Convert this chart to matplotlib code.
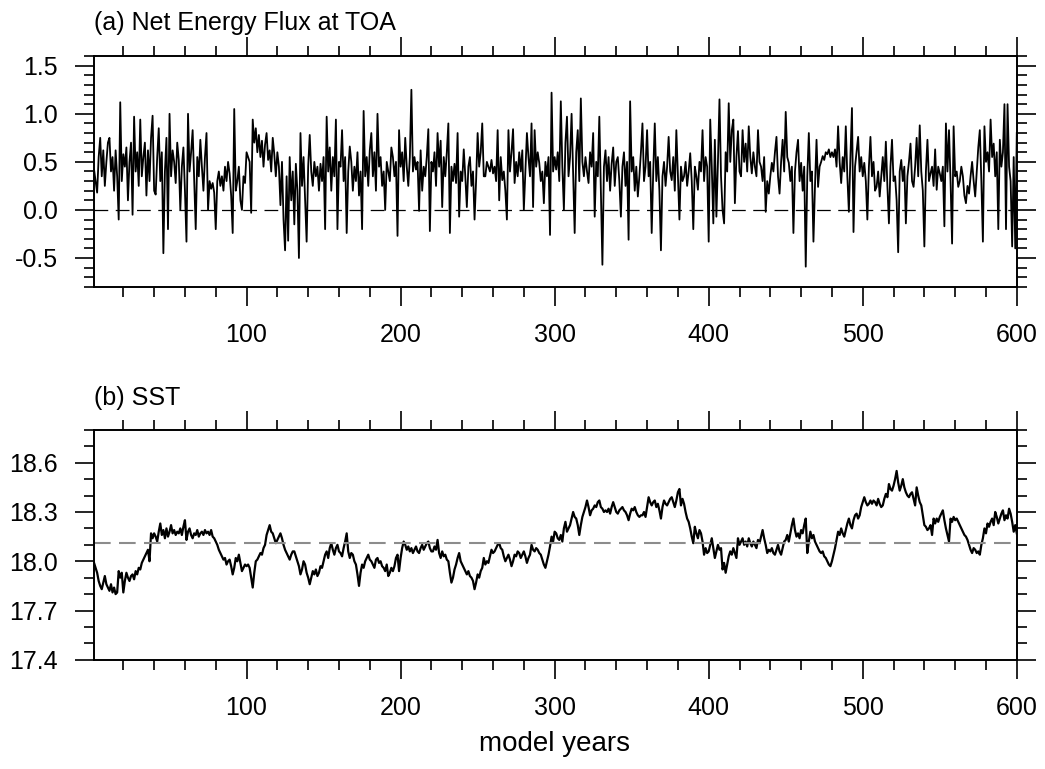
import numpy as np
import matplotlib
matplotlib.use('Agg')
import matplotlib.pyplot as plt
from matplotlib.ticker import MultipleLocator, FormatStrFormatter

plt.rcParams['font.family'] = ['Liberation Sans', 'DejaVu Sans']
plt.rcParams['axes.unicode_minus'] = False

# (a) net energy flux at TOA, one value per model year
flux = [
    0.42, 0.30, 0.18, 0.55, 0.75, 0.35, 0.62, 0.25, 0.50, 0.70, 0.75, 0.40, 0.55, 0.20, 0.62, 0.35, -0.10, 1.12, 0.30, 0.58,
    0.45, 0.65, 0.10, 0.50, 0.70, -0.05, 0.97, 0.40, 0.60, 0.25, 0.94, 0.35, 0.55, 0.70, 0.15, 0.62, 0.30, 0.75, 0.98, 0.20,
    0.16, 0.55, 0.85, 0.30, 0.60, -0.45, 0.40, 0.75, -0.20, 1.00, 0.35, 0.62, 0.50, 0.28, 0.70, 0.52, 0.00, 0.45, 0.65, 0.20,
    -0.33, 1.00, 0.40, 0.60, 0.83, 0.30, -0.20, 0.55, 0.35, 0.73, 0.45, 0.20, 0.55, 0.80, 0.00, 0.30, 0.22, 0.28, 0.18, -0.20,
    0.30, 0.40, 0.25, 0.35, 0.20, 0.45, 0.30, 0.50, 0.38, 0.15, -0.24, 1.05, 0.20, 0.30, 0.45, 0.10, 0.00, 0.35, 0.28, 0.60,
    0.55, 0.50, -0.03, 0.94, 0.70, 0.85, 0.60, 0.78, 0.55, 0.72, 0.45, 0.68, 0.80, 0.52, 0.62, 0.40, 0.75, 0.58, 0.35, 0.60,
    0.45, 0.05, 0.50, -0.10, -0.42, 0.35, -0.32, 0.55, 0.10, 0.40, -0.15, 0.48, 0.20, -0.50, 0.80, 0.25, 0.55, 0.10, -0.33, 0.45,
    0.78, 0.40, 0.25, 0.50, 0.35, 0.45, 0.20, 0.48, 0.30, 0.55, -0.20, 0.97, 0.40, 0.65, 0.20, 0.55, 0.35, 0.94, -0.20, 0.50,
    0.45, 0.83, 0.30, 0.55, -0.24, 0.40, 0.66, 0.50, 0.20, 0.45, 0.30, 0.60, 0.15, 0.40, -0.20, 1.03, 0.35, 0.55, 0.25, 0.62,
    0.80, 0.35, 0.60, 0.20, 1.00, 0.45, 0.55, 0.25, 0.40, 0.00, 0.50, 0.40, 0.30, 0.65, 0.55, 0.35, 0.50, -0.27, 0.83, 0.45,
    0.60, 0.30, 0.75, 0.45, 0.25, 0.55, 1.25, 0.40, 0.55, 0.42, 0.50, -0.01, 0.62, 0.20, 0.45, 0.35, 0.55, 0.84, -0.22, 0.50,
    0.40, 0.60, 0.25, 0.80, 0.45, 0.72, 0.03, 0.55, 0.35, 0.60, 0.90, -0.24, 0.45, 0.30, 0.48, 0.28, 0.80, -0.07, 0.40, 0.30,
    0.63, 0.35, 0.03, 0.45, 0.55, 0.25, 0.40, -0.10, 0.30, 0.80, 0.45, 0.60, 0.90, 0.35, 0.35, 0.50, 0.45, 0.40, 0.52, 0.38,
    0.45, 0.30, 0.83, 0.10, 0.55, 0.31, 0.40, 0.20, -0.10, 0.83, 0.40, 0.60, 0.84, 0.28, 0.50, 0.35, 0.60, 0.40, 0.62, 0.00,
    0.40, 0.80, 0.55, 0.35, 0.90, 0.03, 0.83, 0.45, 0.60, 0.49, 0.30, 0.40, 0.07, 0.50, 0.35, 0.55, -0.26, 1.22, 0.40, 0.55,
    0.42, 0.60, 0.30, 1.13, 0.45, 0.00, 0.70, 0.97, 0.35, 0.55, 1.00, 0.40, -0.24, 0.60, 0.83, 0.30, 1.16, 0.50, 0.35, 0.55,
    0.40, 0.28, 0.60, 0.45, 0.80, -0.07, 0.50, 0.35, 0.97, 0.20, -0.57, 0.45, 0.62, 0.30, 0.55, 0.20, 0.48, 0.65, 0.25, 0.50,
    0.55, 0.30, -0.07, 0.45, 0.60, 0.25, 0.50, -0.31, 1.13, 0.40, 0.55, 0.20, 0.45, 0.14, 0.35, 0.60, 0.90, 0.30, 0.45, 0.83,
    0.35, 0.50, -0.24, 0.40, 0.90, 0.30, 0.55, 0.20, -0.42, 0.35, 0.50, 0.25, 0.45, 0.76, 0.40, 0.31, 0.55, 0.20, 0.83, 0.35,
    -0.10, 0.45, 0.30, 0.35, 0.50, 0.25, 0.40, 0.59, 0.30, -0.20, 0.45, 0.35, 0.21, 0.50, 0.40, 0.83, 0.30, 0.55, 0.45, -0.33,
    0.94, 0.45, -0.14, 0.73, -0.07, 0.50, 1.15, 0.35, 0.00, -0.14, 0.60, 0.40, 1.11, 0.50, 0.83, 0.94, 0.07, 0.55, 0.82, 0.40,
    0.35, 0.83, 0.50, 0.69, 0.40, 0.87, 0.55, 0.38, 0.60, 0.45, 0.35, 0.83, 0.50, 0.45, 0.30, 0.55, -0.02, 0.30, 0.17, 0.35,
    0.49, 0.40, 0.60, 0.76, 0.35, 0.17, 0.50, 0.73, 0.40, 1.02, 0.55, 0.49, 0.30, 0.45, -0.24, 0.40, 0.60, 0.73, 0.30, 0.49,
    0.20, 0.45, -0.59, 0.35, 0.80, 0.30, 0.40, -0.33, 0.25, 0.73, 0.24, 0.45, 0.50, 0.56, 0.52, 0.60, 0.58, 0.63, 0.55, 0.60,
    0.55, 0.63, 0.45, 0.87, 0.50, 0.28, 0.55, 0.40, 0.87, 0.35, -0.02, 0.55, 1.06, -0.23, 0.45, 0.60, 0.76, 0.40, 0.55, 0.35,
    0.49, 0.30, -0.10, 0.45, 0.76, 0.35, 0.50, 0.20, 0.24, 0.40, 0.14, 0.35, 0.55, 0.30, 0.71, 0.25, -0.14, 0.45, 0.73, 0.30,
    0.35, 0.10, -0.44, 0.40, 0.52, 0.30, 0.45, -0.14, 0.35, 0.50, 0.69, 0.30, 0.24, 0.45, 0.75, 0.35, 0.88, 0.40, 0.20, -0.38,
    0.40, 0.73, 0.30, 0.38, 0.45, 0.25, 0.63, 0.21, 0.45, 0.38, 0.30, 0.45, -0.17, 0.90, 0.40, 0.83, 0.30, -0.35, 0.87, 0.35,
    0.40, 0.24, 0.30, 0.45, 0.35, 0.15, 0.07, 0.25, 0.17, 0.35, 0.50, 0.30, 0.14, 0.40, 0.65, 0.83, 0.30, -0.33, 0.87, 0.50,
    0.60, 0.40, 0.94, 0.55, 0.69, 0.35, 0.60, -0.20, 0.73, 0.45, 0.60, 1.10, -0.20, 1.10, 0.45, 0.30, -0.38, 0.55, -0.40, 0.80,
]

# (b) SST, one value per model year
sst = [
    17.99, 17.96, 17.93, 17.88, 17.85, 17.83, 17.87, 17.91, 17.86, 17.84, 17.82, 17.86, 17.81, 17.84, 17.80, 17.81, 17.94, 17.90, 17.93, 17.81,
    17.88, 17.93, 17.90, 17.88, 17.91, 17.92, 17.89, 17.94, 17.92, 17.96, 17.95, 17.99, 18.01, 18.03, 18.05, 18.07, 18.00, 18.17, 18.14, 18.17,
    18.15, 18.12, 18.18, 18.23, 18.16, 18.19, 18.14, 18.20, 18.15, 18.18, 18.22, 18.17, 18.19, 18.16, 18.18, 18.17, 18.20, 18.16, 18.21, 18.25,
    18.13, 18.18, 18.20, 18.16, 18.14, 18.17, 18.16, 18.19, 18.15, 18.17, 18.18, 18.16, 18.19, 18.17, 18.18, 18.16, 18.19, 18.15, 18.14, 18.12,
    18.10, 18.07, 18.05, 18.03, 18.01, 18.02, 17.98, 18.00, 18.01, 17.97, 17.92, 17.96, 18.02, 18.00, 18.04, 17.99, 17.94, 17.96, 17.98, 17.97,
    17.98, 17.96, 17.90, 17.84, 17.93, 18.00, 18.01, 18.03, 18.05, 18.04, 18.08, 18.10, 18.16, 18.19, 18.22, 18.18, 18.17, 18.14, 18.11, 18.13,
    18.15, 18.17, 18.14, 18.10, 18.07, 18.05, 18.03, 18.01, 18.04, 18.06, 18.06, 18.03, 18.00, 17.97, 17.92, 17.95, 18.00, 17.98, 17.93, 17.90,
    17.86, 17.90, 17.94, 17.92, 17.95, 17.91, 17.93, 17.97, 17.96, 18.00, 18.04, 18.06, 18.02, 18.08, 18.11, 18.07, 18.04, 18.08, 18.10, 18.06,
    18.05, 18.03, 18.08, 18.12, 18.17, 18.06, 18.02, 18.05, 18.04, 18.00, 17.98, 17.92, 17.85, 17.93, 17.98, 17.96, 18.00, 18.02, 18.04, 18.01,
    18.00, 17.98, 17.96, 18.01, 18.02, 17.99, 18.00, 17.97, 17.96, 17.94, 17.98, 17.91, 17.93, 17.96, 17.94, 17.97, 18.02, 18.04, 17.94, 18.02,
    18.08, 18.12, 18.10, 18.07, 18.09, 18.06, 18.08, 18.05, 18.07, 18.09, 18.06, 18.05, 18.08, 18.10, 18.07, 18.09, 18.11, 18.12, 18.08, 18.06,
    18.06, 18.09, 18.07, 18.13, 18.05, 18.02, 18.06, 18.03, 18.04, 18.01, 18.00, 17.93, 17.87, 17.90, 17.95, 17.98, 18.02, 18.05, 18.00, 17.98,
    17.96, 17.94, 17.92, 17.94, 17.91, 17.90, 17.88, 17.83, 17.87, 17.92, 17.90, 17.94, 17.96, 18.02, 17.98, 18.00, 17.99, 18.03, 18.07, 18.05,
    18.06, 18.08, 18.10, 18.11, 18.08, 18.07, 18.03, 18.00, 18.02, 18.04, 18.01, 17.97, 18.00, 18.04, 18.03, 18.06, 18.05, 18.02, 18.04, 18.06,
    18.03, 17.99, 18.02, 18.04, 18.10, 18.07, 18.06, 18.08, 18.07, 18.05, 18.04, 18.01, 17.98, 17.96, 18.00, 18.04, 18.09, 18.15, 18.12, 18.18,
    18.17, 18.14, 18.13, 18.16, 18.12, 18.20, 18.24, 18.18, 18.20, 18.22, 18.26, 18.30, 18.27, 18.26, 18.22, 18.16, 18.22, 18.27, 18.30, 18.33,
    18.37, 18.33, 18.28, 18.31, 18.32, 18.34, 18.33, 18.36, 18.37, 18.33, 18.32, 18.30, 18.31, 18.30, 18.32, 18.29, 18.33, 18.36, 18.33, 18.30,
    18.29, 18.31, 18.32, 18.33, 18.31, 18.30, 18.28, 18.25, 18.29, 18.32, 18.31, 18.33, 18.30, 18.28, 18.27, 18.28, 18.28, 18.30, 18.27, 18.33,
    18.39, 18.36, 18.34, 18.36, 18.37, 18.33, 18.35, 18.31, 18.26, 18.33, 18.37, 18.35, 18.34, 18.36, 18.38, 18.39, 18.36, 18.33, 18.37, 18.42,
    18.44, 18.34, 18.38, 18.35, 18.30, 18.26, 18.24, 18.20, 18.15, 18.11, 18.21, 18.17, 18.14, 18.19, 18.17, 18.12, 18.04, 18.08, 18.05, 18.06,
    18.10, 18.14, 18.08, 18.02, 18.06, 18.10, 18.07, 18.08, 17.95, 17.99, 17.93, 17.98, 18.03, 18.06, 18.04, 18.08, 18.05, 18.02, 18.14, 18.10,
    18.12, 18.14, 18.10, 18.12, 18.09, 18.14, 18.11, 18.09, 18.12, 18.10, 18.08, 18.13, 18.11, 18.15, 18.19, 18.14, 18.10, 18.05, 18.07, 18.06,
    18.08, 18.05, 18.04, 18.07, 18.10, 18.06, 18.04, 18.08, 18.12, 18.13, 18.16, 18.12, 18.17, 18.22, 18.26, 18.19, 18.15, 18.17, 18.14, 18.19,
    18.17, 18.22, 18.26, 18.05, 18.12, 18.18, 18.14, 18.16, 18.12, 18.10, 18.08, 18.06, 18.05, 18.06, 18.03, 18.02, 18.00, 17.98, 17.97, 18.00,
    18.04, 18.08, 18.13, 18.18, 18.16, 18.20, 18.17, 18.15, 18.19, 18.23, 18.26, 18.22, 18.20, 18.25, 18.28, 18.29, 18.26, 18.28, 18.33, 18.36,
    18.39, 18.36, 18.34, 18.35, 18.37, 18.35, 18.37, 18.36, 18.34, 18.38, 18.35, 18.33, 18.34, 18.38, 18.41, 18.39, 18.47, 18.44, 18.43, 18.46,
    18.50, 18.55, 18.48, 18.43, 18.46, 18.50, 18.45, 18.42, 18.40, 18.39, 18.41, 18.42, 18.38, 18.34, 18.45, 18.40, 18.36, 18.34, 18.28, 18.22,
    18.21, 18.19, 18.20, 18.22, 18.16, 18.26, 18.23, 18.26, 18.24, 18.27, 18.29, 18.31, 18.25, 18.20, 18.16, 18.12, 18.26, 18.24, 18.27, 18.25,
    18.26, 18.24, 18.22, 18.20, 18.18, 18.16, 18.15, 18.13, 18.10, 18.07, 18.05, 18.08, 18.07, 18.05, 18.06, 18.04, 18.10, 18.14, 18.20, 18.17,
    18.23, 18.21, 18.24, 18.26, 18.22, 18.30, 18.27, 18.23, 18.26, 18.29, 18.31, 18.25, 18.28, 18.26, 18.32, 18.29, 18.24, 18.18, 18.22, 18.17,
]

flux_ref = 0.0
sst_mean = 18.11

years_a = np.arange(1, len(flux) + 1)
years_b = np.arange(1, len(sst) + 1)


def style(ax, ylim, ymaj, ymin):
    ax.set_xlim(1, 600)
    ax.set_ylim(*ylim)
    ax.xaxis.set_major_locator(MultipleLocator(100))
    ax.xaxis.set_minor_locator(MultipleLocator(20))
    ax.yaxis.set_major_locator(MultipleLocator(ymaj))
    ax.yaxis.set_minor_locator(MultipleLocator(ymin))
    ax.yaxis.set_major_formatter(FormatStrFormatter('%.1f'))
    ax.tick_params(which='both', direction='out', top=True, right=True,
                   width=1.2, labelsize=18, pad=12)
    ax.tick_params(which='major', length=14)
    ax.tick_params(which='minor', length=7)
    for s in ax.spines.values():
        s.set_linewidth(1.4)


fig = plt.figure(figsize=(10.45, 7.69), dpi=100)
ax1 = fig.add_axes([0.090, 0.627, 0.883, 0.300])
ax2 = fig.add_axes([0.090, 0.142, 0.883, 0.299])

ax1.plot(years_a, flux, color='black', lw=1.3)
ax1.axhline(flux_ref, color='black', lw=0.9, ls=(0, (11, 6)))
style(ax1, (-0.8, 1.6), 0.5, 0.1)
ax1.text(0, 1 + 26 / 231, '(a) Net Energy Flux at TOA', transform=ax1.transAxes,
         fontsize=18, ha='left', va='baseline')

ax2.plot(years_b, sst, color='black', lw=1.6)
ax2.axhline(sst_mean, color='#8c8c8c', lw=1.5, ls=(0, (8, 4)))
style(ax2, (17.4, 18.8), 0.3, 0.1)
ax2.text(0, 1 + 25 / 230, '(b) SST', transform=ax2.transAxes,
         fontsize=18, ha='left', va='baseline')

fig.text(0.531, 0.024, 'model years', ha='center', va='baseline', fontsize=20)

fig.savefig('out.png', dpi=100)
